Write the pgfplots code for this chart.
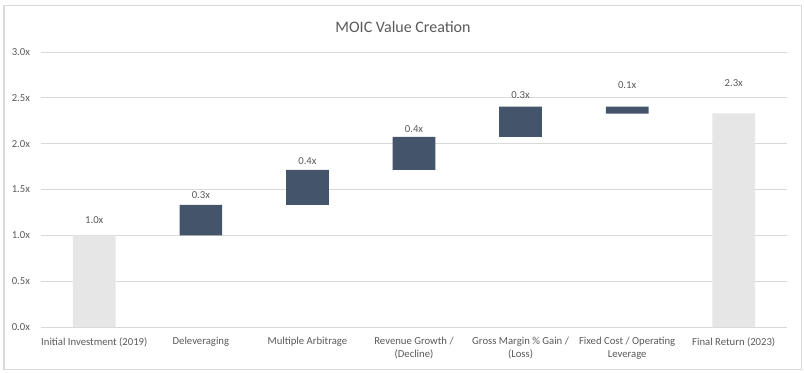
\documentclass[border=0pt]{standalone}
\usepackage{pgfplots}
\pgfplotsset{compat=1.18}
\usepackage{fontspec}
\setmainfont{Carlito}
\definecolor{navy}{HTML}{44546A}
\definecolor{lgray}{HTML}{E7E6E6}
\definecolor{txt}{HTML}{595959}
\definecolor{grid}{HTML}{D9D9D9}
\begin{document}
\begin{tikzpicture}[x=1bp,y=1bp]
\useasboundingbox (-41,-45) rectangle (763,327);
\draw[color=grid,line width=1bp] (-37,-42) rectangle (760,321);
\begin{axis}[
  at={(0,0)}, anchor=south west,
  scale only axis, width=746bp, height=275bp,
  xmin=-0.5, xmax=6.5, ymin=0, ymax=3,
  ybar stacked, bar width=42.7bp,
  axis line style={draw=none},
  ymajorgrids, grid style={color=grid, line width=0.9bp},
  ytick={0,0.5,1,1.5,2,2.5,3},
  yticklabels={0.0x,0.5x,1.0x,1.5x,2.0x,2.5x,3.0x},
  xtick=data,
  xticklabels={Initial Investment (2019),Deleveraging,Multiple Arbitrage,{Revenue Growth /\\(Decline)},{Gross Margin \% Gain /\\(Loss)},{Fixed Cost / Operating\\Leverage},Final Return (2023)},
  major tick length=0pt,
  tick label style={font=\fontsize{10.7bp}{12.8bp}\selectfont, text=txt},
  xticklabel style={align=center, anchor=north, yshift=-7bp},
  yticklabel style={anchor=east, xshift=-7.5bp},
  clip=false,
]
\addplot[draw=none, fill=none] coordinates {(0,0) (1,1.0) (2,1.333) (3,1.713) (4,2.075) (5,2.327) (6,0)};
\addplot[draw=none, fill=navy] coordinates {(0,0) (1,0.333) (2,0.38) (3,0.362) (4,0.33) (5,0.078) (6,0)};
\addplot[draw=none, fill=lgray] coordinates {(0,1.0) (1,0) (2,0) (3,0) (4,0) (5,0) (6,2.33)};
\end{axis}
\begin{axis}[
  at={(0,0)}, anchor=south west,
  scale only axis, width=746bp, height=275bp,
  xmin=-0.5, xmax=6.5, ymin=0, ymax=3,
  hide axis, clip=false,
]
\addplot[only marks, mark=none, nodes near coords, point meta=explicit symbolic,
  every node near coord/.append style={anchor=center, font=\fontsize{10.7bp}{12.8bp}\selectfont, text=txt}]
  table[meta=lab] {
x y lab
0 1.167 1.0x
1 1.44 0.3x
2 1.81 0.4x
3 2.16 0.4x
4 2.534 0.3x
5 2.643 0.1x
6 2.665 2.3x
};
\end{axis}
\node[text=txt, font=\fontsize{16bp}{19bp}\selectfont] at (362,300) {MOIC Value Creation};
\end{tikzpicture}
\end{document}
